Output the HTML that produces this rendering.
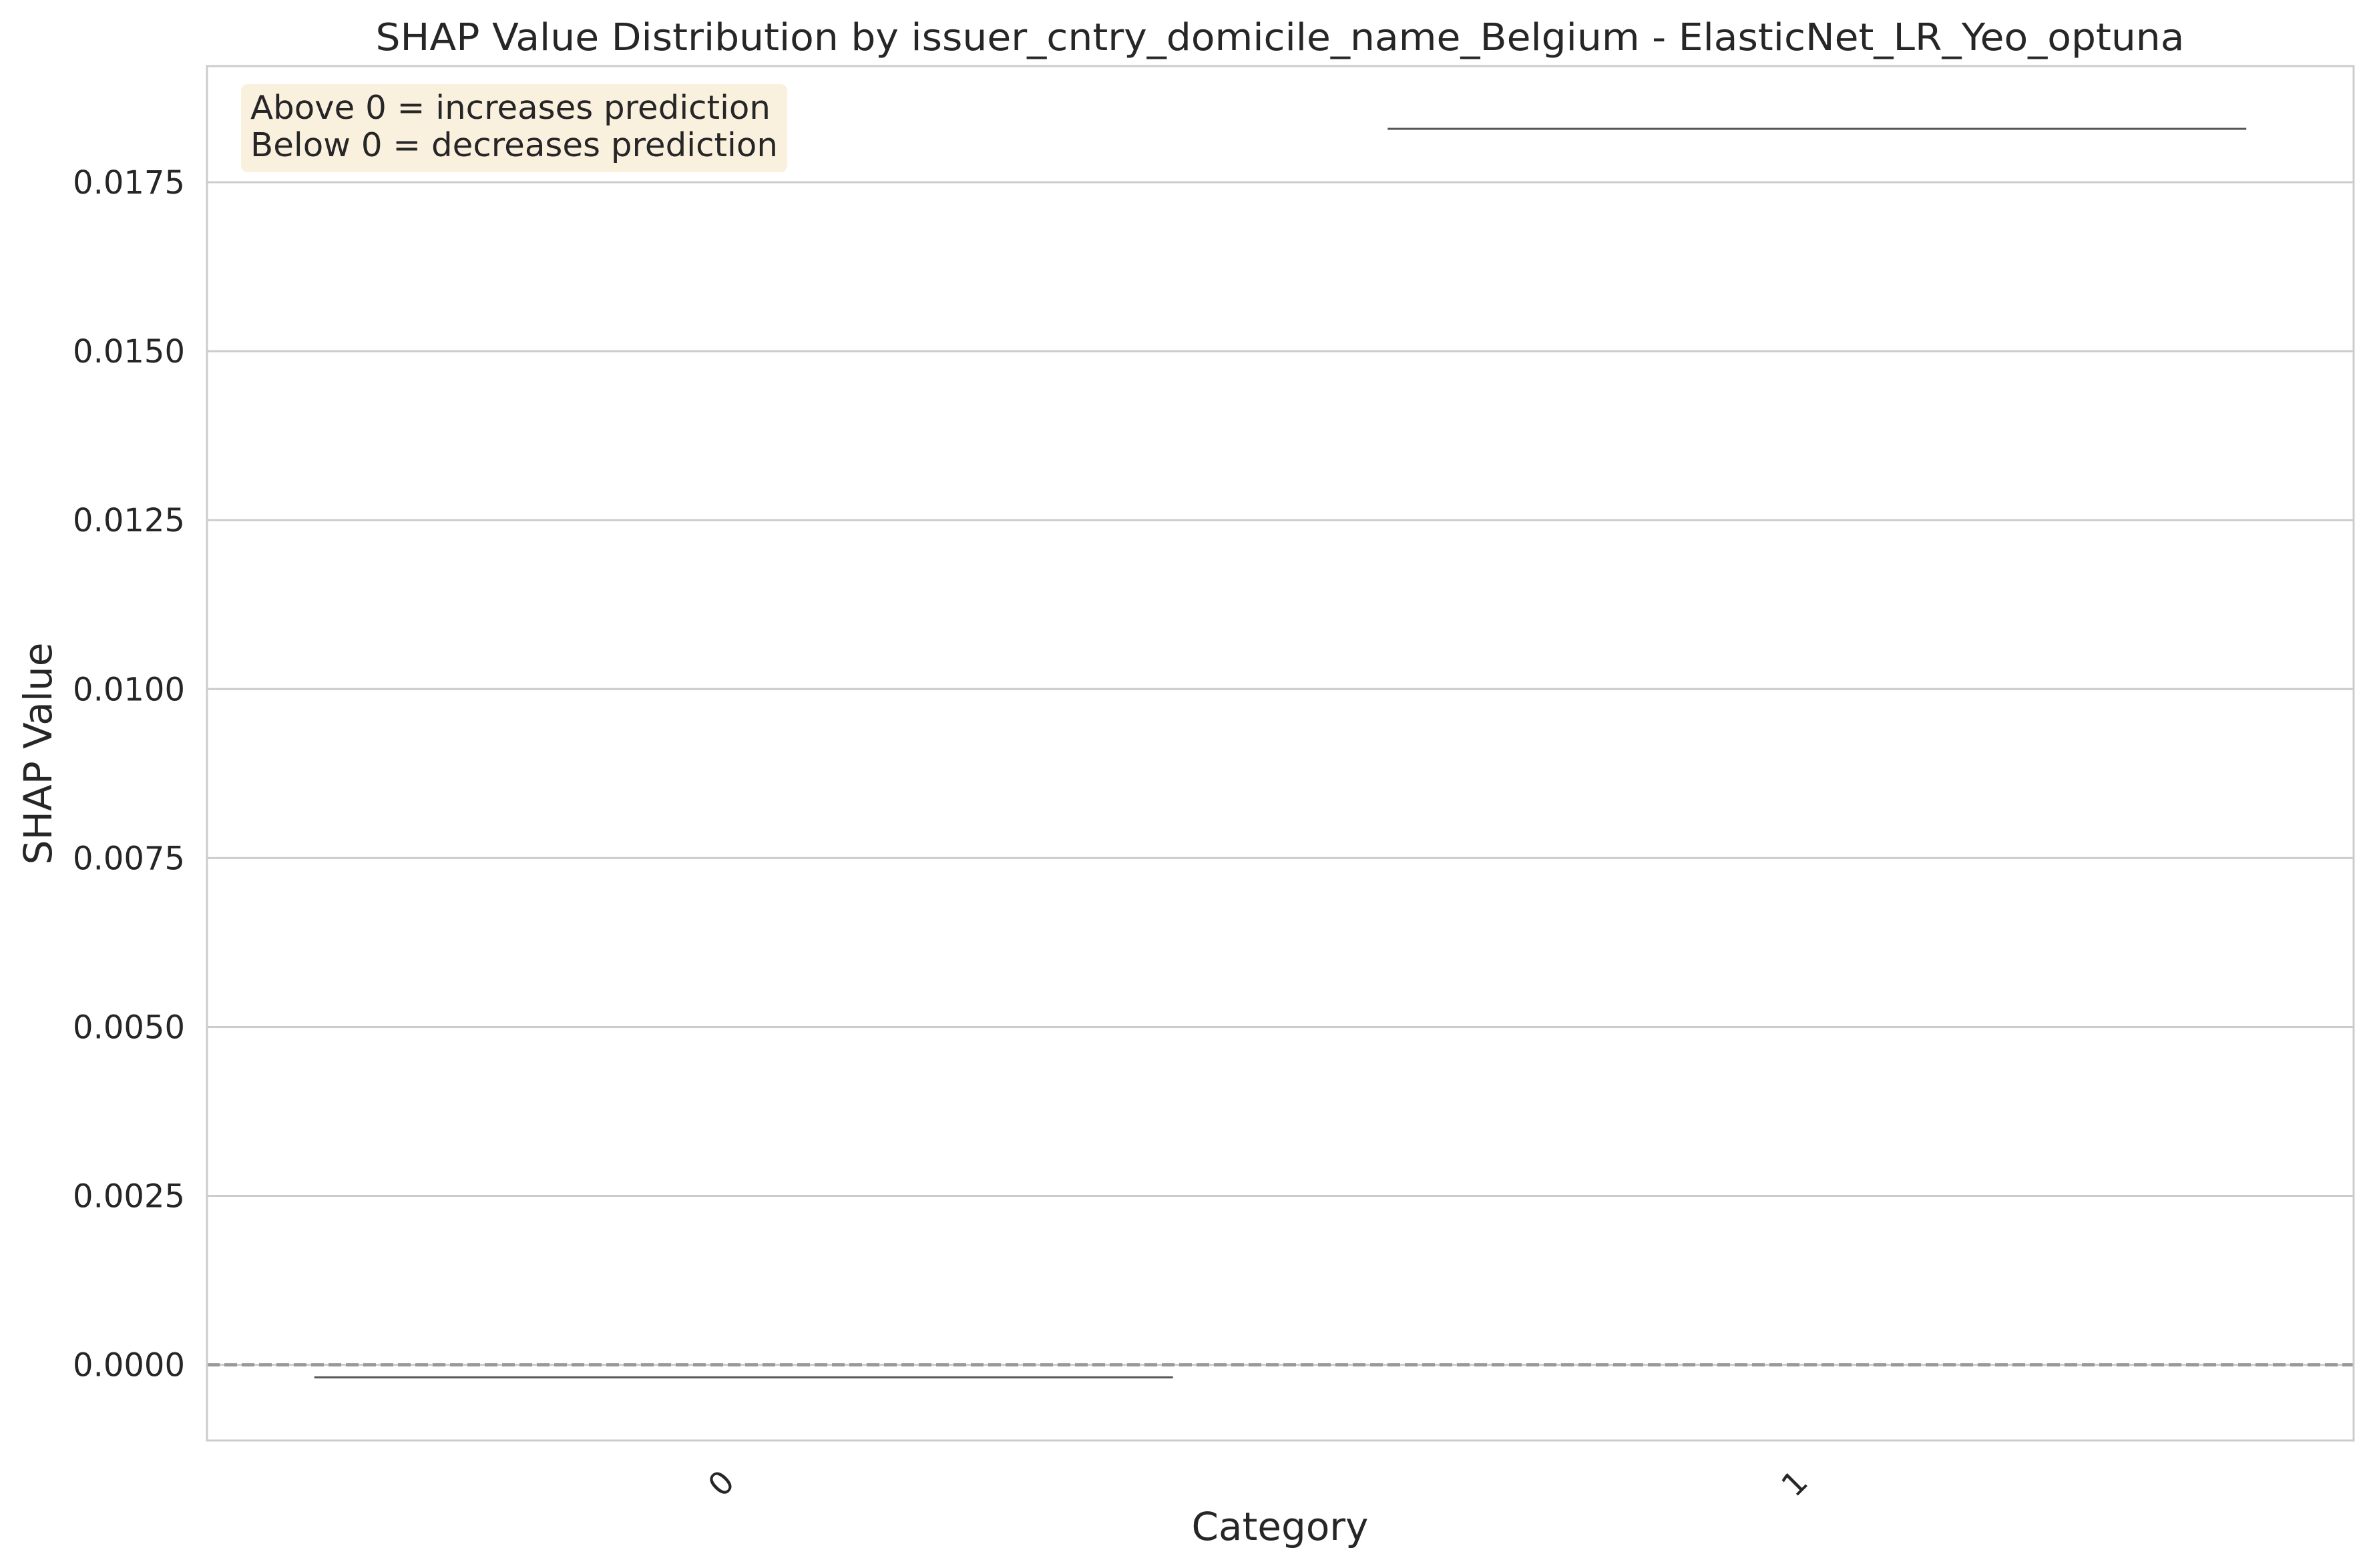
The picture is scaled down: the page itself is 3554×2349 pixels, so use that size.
<!DOCTYPE html>
<html><head><meta charset="utf-8"><style>
html,body{margin:0;padding:0;background:#fff;}
svg{display:block;font-family:"DejaVu Sans","Liberation Sans",sans-serif;}
</style></head><body>
<svg id="chart" width="3554" height="2349" viewBox="0 0 3554 2349">
<rect width="3554" height="2349" fill="#fff"/>
<g id="grid"></g>
<g id="marks"></g>
<rect x="310" y="99" width="3215" height="2059" fill="none" stroke="#cccccc" stroke-width="3"/>
<g id="yticks"></g>
<g id="xticks"></g>
<text x="1917" y="75" font-size="56" fill="#262626" text-anchor="middle" textLength="2709" lengthAdjust="spacingAndGlyphs">SHAP Value Distribution by issuer_cntry_domicile_name_Belgium - ElasticNet_LR_Yeo_optuna</text>
<text x="1917" y="2307" font-size="58" fill="#262626" text-anchor="middle">Category</text>
<text transform="translate(77,1129) rotate(-90)" font-size="58" fill="#262626" text-anchor="middle">SHAP Value</text>
<g>
<rect x="361" y="126" width="818" height="132" rx="10" fill="#f5e6c8" fill-opacity="0.6"/>
<text x="375" y="178" font-size="49" fill="#262626" textLength="779" lengthAdjust="spacingAndGlyphs">Above 0 = increases prediction</text>
<text x="375" y="234" font-size="49" fill="#262626" textLength="790" lengthAdjust="spacingAndGlyphs">Below 0 = decreases prediction</text>
</g>
</svg>
<script>
const categories = ["0", "1"];
const shapValues = [-0.000185, 0.01829];
const yTicks = [0, 0.0025, 0.005, 0.0075, 0.01, 0.0125, 0.015, 0.0175];
const yTickLabels = ["0.0000","0.0025","0.0050","0.0075","0.0100","0.0125","0.0150","0.0175"];

const NS = "http://www.w3.org/2000/svg";
const plotL = 310, plotR = 3525, plotT = 99, plotB = 2158;
const yMin = -0.00112, yMax = 0.019219;
function yScale(v){ return plotB - (v - yMin) / (yMax - yMin) * (plotB - plotT); }
const band = (plotR - plotL) / categories.length;
function xCenter(i){ return plotL + band * (i + 0.5); }
function mk(tag, attrs, parent){ const e = document.createElementNS(NS, tag); for (const k in attrs) e.setAttribute(k, attrs[k]); parent.appendChild(e); return e; }

const grid = document.getElementById('grid');
const yt = document.getElementById('yticks');
yTicks.forEach((v, i) => {
  const y = yScale(v);
  const gl = mk('line', {x1: plotL, x2: plotR, y1: y, y2: y, stroke: '#cccccc', 'stroke-width': 3}, grid);
  
  
  const t = mk('text', {x: 277, y: y + 17, 'font-size': 48, fill: '#262626', 'text-anchor': 'end'}, yt);
  t.textContent = yTickLabels[i];
  
  
});

const marks = document.getElementById('marks');
const zl = mk('line', {x1: plotL, x2: plotR, y1: yScale(0), y2: yScale(0), stroke: '#999999', 'stroke-width': 5, 'stroke-dasharray': '19 7'}, marks);



const xt = document.getElementById('xticks');
categories.forEach((c, i) => {
  const cx = xCenter(i);
  const hw = band * 0.4;
  const y = yScale(shapValues[i]);
  const ln = mk('line', {x1: cx - hw, x2: cx + hw, y1: y, y2: y, stroke: '#555555', 'stroke-width': 3}, marks);
  
  
  const t = mk('text', {transform: 'translate(' + (cx - 22) + ',2234) rotate(-45)', 'font-size': 48, fill: '#262626', 'text-anchor': 'middle'}, xt);
  t.textContent = c;
  
  
});
</script>
</body></html>
